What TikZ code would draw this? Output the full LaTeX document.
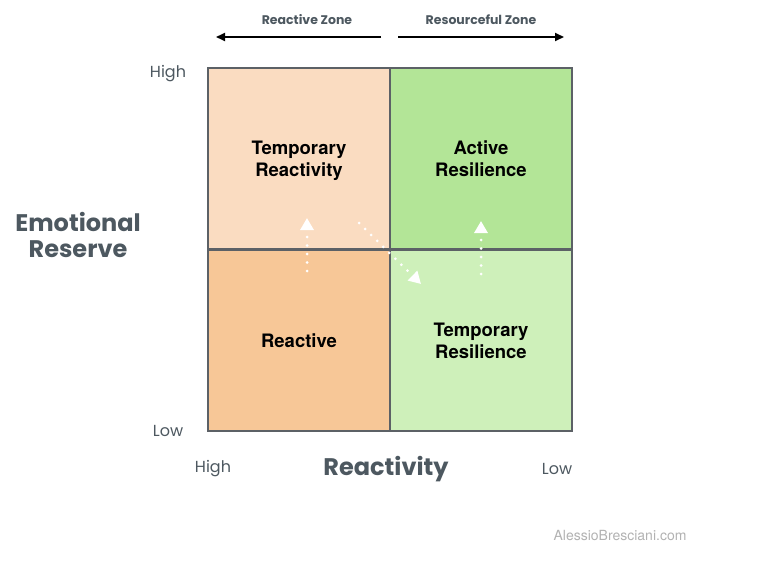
\documentclass[tikz,border=0pt]{standalone}
\usepackage{fontspec}
\setmainfont{TeX Gyre Heros}
\newfontfamily\axisfont{Poppins}
\usepackage{xcolor}
\usepackage{tikz}
\usetikzlibrary{arrows.meta,positioning,calc}
\definecolor{peachlight}{HTML}{FADCC1}
\definecolor{peach}{HTML}{F7C797}
\definecolor{greendark}{HTML}{B3E597}
\definecolor{greenlight}{HTML}{CEF0BA}
\definecolor{frame}{HTML}{5C6166}
\definecolor{axisgray}{HTML}{4D5860}
\newcommand{\quadtext}[1]{\raisebox{-3pt}[\height][\depth]{\begin{tabular}{@{}c@{}}#1\end{tabular}}}
\tikzstyle{quad} = [rectangle, draw=frame, line width=2pt, minimum width=182pt, minimum height=181pt, inner sep=0pt, align=center, font=\fontsize{18.5}{22}\selectfont\bfseries]
\tikzstyle{tick} = [font=\axisfont\fontsize{16}{18}\selectfont, text=axisgray]
\tikzstyle{axis} = [font=\axisfont\bfseries\fontsize{24}{26}\selectfont, text=axisgray, align=center]
\tikzstyle{zone} = [font=\axisfont\bfseries\fontsize{12.5}{14}\selectfont, text=axisgray]
\tikzstyle{zonearrow} = [line width=2pt, -{Triangle[length=9pt,width=8pt]}]
\tikzstyle{move} = [white, line width=3pt, line cap=round, dash pattern=on 0pt off 8.5pt, -{Triangle[length=12pt,width=13pt,fill=white]}]

\begin{document}
\begin{tikzpicture}[x=1pt,y=-1pt]
    \path[use as bounding box] (0,0) rectangle (768,564);

    \node[quad, fill=peachlight] (tl) at (299,158.5) {\quadtext{Temporary\\Reactivity}};
    \node[quad, fill=greendark]  (tr) at (481,158.5) {\quadtext{Active\\Resilience}};
    \node[quad, fill=peach]      (bl) at (299,340) {\quadtext{Reactive}};
    \node[quad, fill=greenlight] (br) at (481,340) {\quadtext{Temporary\\Resilience}};

    \node[tick] (yhigh) at (168,74) {High};
    \node[tick] (ylow) at (168,431) {Low};
    \node[tick] (xhigh) at (213,469) {High};
    \node[tick] (xlow) at (557,469) {Low};
    \node[axis] (xaxis) at (386,469) {Reactivity};
    \node[axis] (yaxis) at (78,235) {Emotional\\Reserve};

    \node[zone] (rz) at (307,20) {Reactive Zone};
    \node[zone] (sz) at (481,20) {Resourceful Zone};
    \coordinate (rz0) at (381,37); \coordinate (rz1) at (216,37);
    \coordinate (sz0) at (398,37); \coordinate (sz1) at (564,37);
    \draw[zonearrow] (rz0) -- (rz1);
    \draw[zonearrow] (sz0) -- (sz1);

    \coordinate (m1a) at (307,271); \coordinate (m1b) at (307,218);
    \coordinate (m2a) at (359,223); \coordinate (m2b) at (421,284);
    \coordinate (m3a) at (481,274); \coordinate (m3b) at (481,221);
    \draw[move] (m1a) -- (m1b);
    \draw[move] (m2a) -- (m2b);
    \draw[move] (m3a) -- (m3b);

    \node[text=black!30, font=\fontsize{14}{16}\selectfont] (site) at (620,535) {AlessioBresciani.com};
\end{tikzpicture}
\end{document}
